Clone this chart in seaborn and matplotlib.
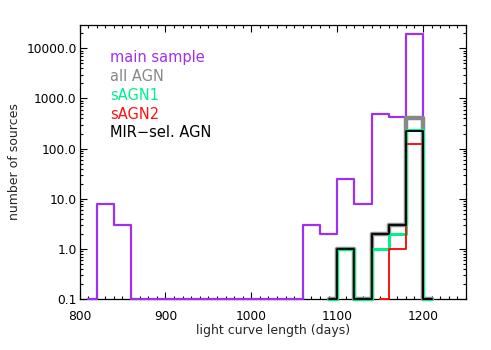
import numpy as np
import matplotlib
matplotlib.use("Agg")
import matplotlib.pyplot as plt
import matplotlib.ticker as mticker
import seaborn as sns

# ---- data (bin centres in days, counts per 20-day bin) ----
main_x = [810, 830, 850, 870, 890, 910, 930, 950, 970, 990, 1010, 1030, 1050,
          1070, 1090, 1110, 1130, 1150, 1170, 1190, 1210]
main_n = [0, 8, 3, 0, 0, 0, 0, 0, 0, 0, 0, 0, 0,
          3, 2, 25, 8, 480, 420, 19500, 0]

agn_x = [1090, 1110, 1130, 1150, 1170, 1190, 1210]
allagn_n = [0, 1, 0, 2, 3, 410, 0]
sagn1_n = [0, 1, 0, 1, 2, 230, 0]
mir_n = [0, 1, 0, 2, 3, 220, 0]

sagn2_x = [1150, 1170, 1190, 1210]
sagn2_n = [0, 1, 125, 0]

labels = ["main sample", "all AGN", "sAGN1", "sAGN2", "MIR\u2212sel. AGN"]
colors = ["#A030F0", "#888888", "#00F08C", "#FF1010", "#000000"]

YMIN, YMAX = 0.1, 29500

sns.set_style("white")
plt.rcParams['font.family'] = ['DejaVu Sans']

fig = plt.figure(figsize=(4.91, 3.5), dpi=100)
ax = fig.add_axes([0.162, 0.146, 0.787, 0.783])

series = [
    (main_x, main_n, colors[0], 1.6, 2),
    (agn_x, allagn_n, colors[1], 3.2, 3),
    (agn_x, sagn1_n, colors[2], 2.2, 4),
    (sagn2_x, sagn2_n, colors[3], 1.4, 5),
    (agn_x, mir_n, colors[4], 1.3, 6),
]
for xs, ns, c, lw, z in series:
    ys = np.maximum(np.asarray(ns, dtype=float), YMIN)
    sns.lineplot(x=xs, y=ys, ax=ax, color=c, linewidth=lw, drawstyle="steps-mid",
                 estimator=None, sort=False, clip_on=False, zorder=z)

ax.set_yscale("log")
ax.set_xlim(800, 1250)
ax.set_ylim(YMIN, YMAX)

ax.xaxis.set_major_locator(mticker.MultipleLocator(100))
ax.xaxis.set_minor_locator(mticker.MultipleLocator(10))
ax.yaxis.set_major_locator(mticker.LogLocator(base=10, numticks=10))
ax.yaxis.set_minor_locator(mticker.LogLocator(base=10, subs=np.arange(2, 10), numticks=20))
ax.yaxis.set_major_formatter(mticker.FuncFormatter(lambda v, p: f"{v:.1f}"))
ax.yaxis.set_minor_formatter(mticker.NullFormatter())

ax.tick_params(which="both", direction="in", bottom=True, left=True, top=True, right=True,
               colors="black", labelsize=8.8, width=0.8)
ax.tick_params(which="major", length=5)
ax.tick_params(which="minor", length=2.5)
ax.tick_params(axis="x", which="major", pad=8)
ax.tick_params(axis="y", which="major", pad=2)

for s in ax.spines.values():
    s.set_color("black")
    s.set_linewidth(0.9)
    s.set_zorder(1)

ax.set_xlabel("light curve length (days)", fontsize=9, labelpad=1)
ax.set_ylabel("number of sources", fontsize=9, labelpad=4)

for i, (lab, c) in enumerate(zip(labels, colors)):
    ybase = 62.3 + i * 18.8
    ax.text(0.079, (299 - ybase) / 274, lab, color=c, fontsize=10.5,
            transform=ax.transAxes, ha="left", va="baseline")

ax.set_facecolor("white")
fig.patch.set_facecolor("white")
fig.savefig("out.png", dpi=100)
